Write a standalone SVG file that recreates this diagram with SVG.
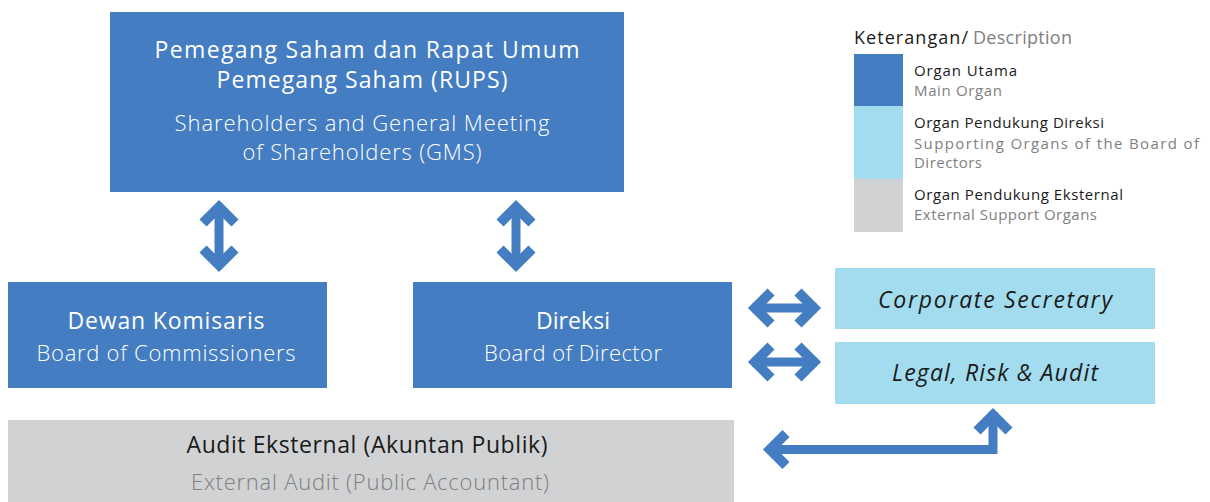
<svg xmlns="http://www.w3.org/2000/svg" width="1210" height="502" viewBox="0 0 1210 502">
  <style>
    .main { fill: #447dc1; }
    .support { fill: #a2dcee; }
    .ext { fill: #d1d2d4; }
    text { font-family: "Open Sans", "Noto Sans", "Liberation Sans", sans-serif; }
    .w1 { fill: #ffffff; font-size: 23px; font-weight: 400; }
    .w2 { fill: #ffffff; font-size: 22px; font-weight: 300; }
    .d1 { fill: #1a1a1a; font-size: 23px; font-weight: 400; }
    .d2 { fill: #1a1a1a; font-size: 23px; font-weight: 400; font-style: italic; }
    .g2 { fill: #7f7f7f; font-size: 22px; font-weight: 300; }
    .lh { font-size: 18px; }
    .lt { fill: #1a1a1a; font-size: 15px; }
    .ls { fill: #7f7f7f; font-size: 15px; }
    .arrow { fill: none; stroke: #447dc1; stroke-width: 9; stroke-linejoin: miter; stroke-linecap: butt; stroke-miterlimit: 10; }
    .head { stroke-width: 10; }
  </style>

  <!-- organ boxes -->
  <g id="rups">
    <rect class="main" x="110" y="12" width="514" height="180"/>
    <text class="w1" x="367" y="58" text-anchor="middle" textLength="425">Pemegang Saham dan Rapat Umum</text>
    <text class="w1" x="362" y="88" text-anchor="middle" textLength="291">Pemegang Saham (RUPS)</text>
    <text class="w2" x="362" y="131" text-anchor="middle" textLength="375">Shareholders and General Meeting</text>
    <text class="w2" x="362" y="160" text-anchor="middle" textLength="239">of Shareholders (GMS)</text>
  </g>

  <g id="dewan-komisaris">
    <rect class="main" x="8" y="282" width="319" height="106"/>
    <text class="w1" x="166" y="329" text-anchor="middle" textLength="197">Dewan Komisaris</text>
    <text class="w2" x="166" y="361" text-anchor="middle" textLength="259">Board of Commissioners</text>
  </g>

  <g id="direksi">
    <rect class="main" x="413" y="282" width="319" height="106"/>
    <text class="w1" x="573" y="329" text-anchor="middle" textLength="74">Direksi</text>
    <text class="w2" x="573" y="361" text-anchor="middle" textLength="178">Board of Director</text>
  </g>

  <g id="corporate-secretary">
    <rect class="support" x="835" y="268" width="320" height="61"/>
    <text class="d2" x="995" y="308" text-anchor="middle" textLength="234">Corporate Secretary</text>
  </g>

  <g id="legal-risk-audit">
    <rect class="support" x="835" y="342" width="320" height="62"/>
    <text class="d2" x="995" y="381" text-anchor="middle" textLength="206">Legal, Risk &amp; Audit</text>
  </g>

  <g id="audit-eksternal">
    <rect class="ext" x="8" y="420" width="726" height="82"/>
    <text class="d1" x="367" y="453" text-anchor="middle" textLength="361">Audit Eksternal (Akuntan Publik)</text>
    <text class="g2" x="370" y="490" text-anchor="middle" textLength="358">External Audit (Public Accountant)</text>
  </g>

  <!-- legend -->
  <g id="legend">
    <text class="lh" x="854" y="44" fill="#1a1a1a" textLength="114">Keterangan/</text>
    <text class="lh" x="973" y="44" fill="#7f7f7f" textLength="99">Description</text>
    <rect class="main" x="854" y="54" width="49" height="52"/>
    <rect class="support" x="854" y="106" width="49" height="73"/>
    <rect class="ext" x="854" y="179" width="49" height="53"/>
    <text class="lt" x="914" y="76" textLength="103">Organ Utama</text>
    <text class="ls" x="914" y="96" textLength="88">Main Organ</text>
    <text class="lt" x="914" y="128" textLength="190">Organ Pendukung Direksi</text>
    <text class="ls" x="914" y="149" textLength="285">Supporting Organs of the Board of</text>
    <text class="ls" x="914" y="168" textLength="68">Directors</text>
    <text class="lt" x="914" y="200" textLength="209">Organ Pendukung Eksternal</text>
    <text class="ls" x="914" y="220" textLength="183">External Support Organs</text>
  </g>

  <!-- connectors -->
  <g id="connectors">
    <!-- RUPS to Dewan Komisaris -->
    <path class="arrow" d="M219 205 V267"/>
    <path class="arrow head" d="M203 223 L219 207 L235 223"/>
    <path class="arrow head" d="M203 249 L219 265 L235 249"/>
    <!-- RUPS to Direksi -->
    <path class="arrow" d="M516 205 V267"/>
    <path class="arrow head" d="M500 223 L516 207 L532 223"/>
    <path class="arrow head" d="M500 249 L516 265 L532 249"/>
    <!-- Direksi to Corporate Secretary -->
    <path class="arrow" d="M752 308 H817"/>
    <path class="arrow head" d="M771 292 L755 308 L771 324"/>
    <path class="arrow head" d="M798 292 L814 308 L798 324"/>
    <!-- Direksi to Legal, Risk & Audit -->
    <path class="arrow" d="M752 362 H817"/>
    <path class="arrow head" d="M771 346 L755 362 L771 378"/>
    <path class="arrow head" d="M798 346 L814 362 L798 378"/>
    <!-- Audit Eksternal to Legal, Risk & Audit -->
    <path class="arrow" d="M767 449.5 H993 V412"/>
    <path class="arrow head" d="M786 433.5 L770 449.5 L786 465.5"/>
    <path class="arrow head" d="M977 431 L993 415 L1009 431"/>
  </g>
</svg>
